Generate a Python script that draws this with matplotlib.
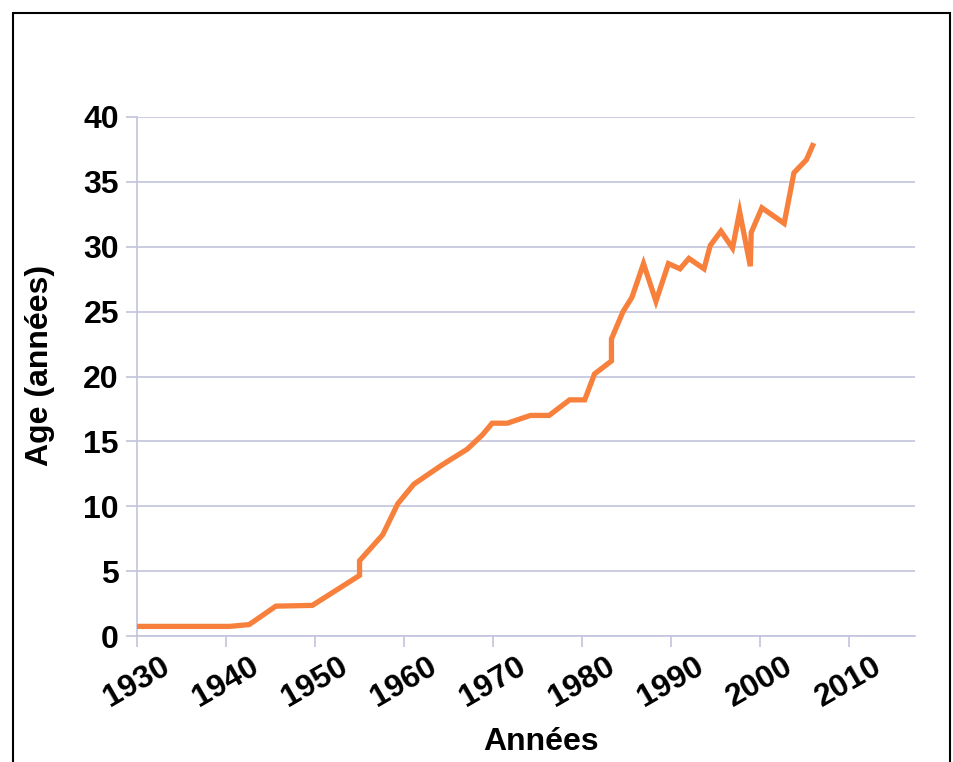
import matplotlib
matplotlib.use("Agg")
import matplotlib.pyplot as plt
from matplotlib.patches import Rectangle

# données
annees = [1930, 1940.4, 1942.6, 1945.6, 1949.7, 1955.0, 1955.0, 1957.6, 1959.3,
          1961.1, 1964.3, 1967.1, 1968.8, 1969.9, 1971.6, 1974.2, 1976.3,
          1978.6, 1980.3, 1981.4, 1983.3, 1983.3, 1984.6, 1985.6, 1986.9,
          1988.3, 1989.7, 1991.0, 1992.0, 1993.7, 1994.4, 1995.6, 1996.9,
          1997.7, 1998.9, 1999.0, 2000.2, 2002.7, 2003.8, 2005.2, 2005.9]
ages = [0.74, 0.74, 0.88, 2.3, 2.36, 4.67, 5.8, 7.8, 10.2,
        11.7, 13.2, 14.4, 15.5, 16.4, 16.4, 17.0, 17.0,
        18.2, 18.2, 20.2, 21.2, 22.9, 25.0, 26.1, 28.7,
        25.8, 28.7, 28.3, 29.1, 28.3, 30.1, 31.2, 29.9,
        32.7, 28.5, 31.1, 33.0, 31.8, 35.7, 36.7, 37.8]
xticks = [1930, 1940, 1950, 1960, 1970, 1980, 1990, 2000, 2010]
yticks = [0, 5, 10, 15, 20, 25, 30, 35, 40]

plt.rcParams['font.family'] = ['Liberation Sans', 'DejaVu Sans']

W, H = 954, 762
fig = plt.figure(figsize=(W / 100, H / 100), dpi=100)

# cadre noir autour
fig.patches.append(Rectangle((13 / W, -0.01), (950 - 13) / W, (H - 13) / H + 0.01,
                             transform=fig.transFigure, fill=False,
                             edgecolor='black', linewidth=1.5))

ax = fig.add_axes([137 / W, 1 - 636 / H, (915 - 137) / W, (636 - 117) / H])
grid_col = '#c3c3dc'

ax.plot(annees, ages, color='#f7813c', linewidth=3.8, solid_joinstyle='miter',
        zorder=3)

ax.set_xlim(1930, 2017.4)
ax.set_ylim(0, 40)
ax.set_xticks(xticks)
ax.set_yticks(yticks)
ax.set_xticklabels([str(t) for t in xticks], rotation=30, ha='center',
                   fontsize=23, fontweight='bold')
ax.set_yticklabels([str(t) for t in yticks], fontsize=23, fontweight='bold')
ax.grid(axis='y', color=grid_col, linewidth=1.2)
ax.tick_params(axis='x', length=8, color=grid_col, width=1.2, pad=3)
ax.tick_params(axis='y', length=8, color=grid_col, width=1.2, pad=5)
for s in ['top', 'right']:
    ax.spines[s].set_visible(False)
ax.spines['left'].set_color(grid_col)
ax.spines['bottom'].set_color(grid_col)
ax.spines['left'].set_linewidth(1.2)
ax.spines['bottom'].set_linewidth(1.2)

ax.set_ylabel('Age (années)', fontsize=23, fontweight='bold')
ax.yaxis.set_label_coords(55 / W, 1 - 365 / H, transform=fig.transFigure)
fig.text(541 / W, 1 - 742 / H, 'Années', ha='center', va='center',
         fontsize=23, fontweight='bold')

fig.savefig('out.png', dpi=100)
